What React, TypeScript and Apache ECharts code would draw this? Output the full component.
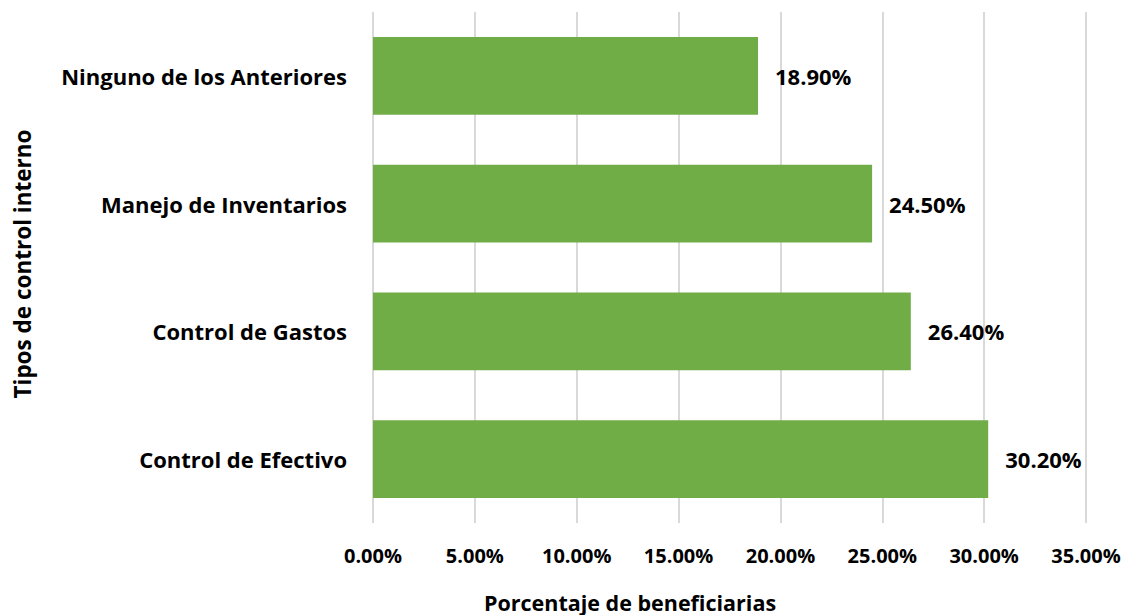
import React, { useEffect, useRef } from "react";
import * as echarts from "echarts";

const categories = ["Control de Efectivo", "Control de Gastos", "Manejo de Inventarios", "Ninguno de los Anteriores"];
const values = [30.2, 26.4, 24.5, 18.9];
const xTicks = { min: 0, max: 35, interval: 5 };
const xTitle = "Porcentaje de beneficiarias";
const yTitle = "Tipos de control interno";

const FONT = "Open Sans";

export default function App() {
  const ref = useRef<HTMLDivElement>(null);
  useEffect(() => {
    const chart = echarts.init(ref.current!, null, { renderer: "svg" });
    chart.setOption({
      animation: false,
      backgroundColor: "#ffffff",
      grid: { left: 373, right: 39, top: 12, bottom: 92, containLabel: false },
      graphic: [
        {
          type: "text",
          x: 630,
          y: 602,
          style: {
            text: xTitle,
            fontFamily: FONT,
            fontWeight: "bold",
            fontSize: 21.5,
            fill: "#000",
            align: "center",
            verticalAlign: "middle",
          },
        },
        {
          type: "text",
          x: 22,
          y: 264,
          rotation: Math.PI / 2,
          style: {
            text: yTitle,
            fontFamily: FONT,
            fontWeight: "bold",
            fontSize: 22.5,
            fill: "#000",
            align: "center",
            verticalAlign: "middle",
          },
        },
      ],
      xAxis: {
        type: "value",
        min: xTicks.min,
        max: xTicks.max,
        interval: xTicks.interval,
        axisLine: { show: false },
        axisTick: { show: false },
        axisLabel: {
          margin: 22,
          fontFamily: FONT,
          fontWeight: "bold",
          fontSize: 20,
          color: "#000",
          formatter: (v: number) => v.toFixed(2) + "%",
        },
        splitLine: { show: true, lineStyle: { color: "#d9d9d9", width: 2 } },
      },
      yAxis: {
        type: "category",
        data: categories,
        axisLine: { show: false },
        axisTick: { show: false },
        axisLabel: {
          margin: 26,
          fontFamily: FONT,
          fontWeight: "bold",
          fontSize: 22,
          color: "#000",
        },
      },
      series: [
        {
          type: "bar",
          data: values,
          barCategoryGap: "39%",
          itemStyle: { color: "#70ad47" },
          label: {
            show: true,
            position: "right",
            distance: 17,
            fontFamily: FONT,
            fontWeight: "bold",
            fontSize: 22,
            color: "#000",
            formatter: (p: any) => p.value.toFixed(2) + "%",
          },
        },
      ],
    });
    return () => chart.dispose();
  }, []);
  return <div ref={ref} style={{ width: 1125, height: 615, position: "absolute", left: 0, top: 0 }} />;
}
